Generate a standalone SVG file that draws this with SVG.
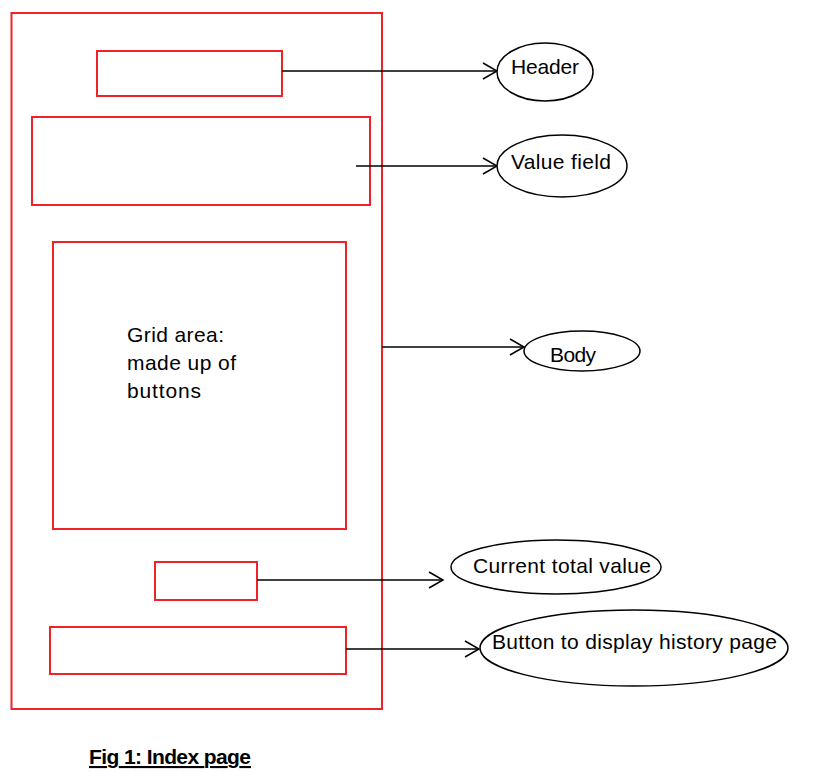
<svg xmlns="http://www.w3.org/2000/svg" width="840" height="772" viewBox="0 0 840 772">
<style>
.box{fill:none;stroke:#ee2229;stroke-width:2}
.ell{fill:#fff;stroke:#000;stroke-width:1.5}
.con{fill:none;stroke:#000;stroke-width:1.5}
.head{fill:none;stroke:#000;stroke-width:1.5}
text{font-family:"Liberation Sans",Arial,sans-serif;font-size:21px;fill:#000}
.cap{font-weight:bold;text-decoration:underline}
</style>
<rect width="840" height="772" fill="#fff"/>
<g id="page"><rect class="box" x="11.5" y="13" width="370.5" height="696"/></g>
<g id="header-box"><rect class="box" x="97" y="51" width="185" height="45"/></g>
<g id="value-box"><rect class="box" x="32" y="117" width="338" height="88"/></g>
<g id="grid-box"><rect class="box" x="53" y="242" width="293" height="287"/>
<text x="127" y="342" textLength="97">Grid area:</text>
<text x="127" y="370" textLength="109">made up of</text>
<text x="127" y="398" textLength="74">buttons</text></g>
<g id="total-box"><rect class="box" x="155" y="562" width="102" height="38"/></g>
<g id="history-box"><rect class="box" x="50" y="627" width="296" height="47"/></g>
<g id="connectors">
<line class="con" x1="282" y1="71" x2="497" y2="71"/><polyline class="head" points="483,63 497,71 483,79"/>
<line class="con" x1="356" y1="166" x2="497" y2="166"/><polyline class="head" points="483,158 497,166 483,174"/>
<line class="con" x1="382" y1="347" x2="524" y2="347"/><polyline class="head" points="510,339 524,347 510,355"/>
<line class="con" x1="257" y1="580" x2="443" y2="580"/><polyline class="head" points="429,572 443,580 429,588"/>
<line class="con" x1="346" y1="649" x2="479" y2="649"/><polyline class="head" points="465,641 479,649 465,657"/>
</g>
<g id="header"><ellipse class="ell" cx="545" cy="72" rx="48" ry="29"/><text x="511" y="74" textLength="68">Header</text></g>
<g id="value-field"><ellipse class="ell" cx="562" cy="166" rx="65" ry="31"/><text x="511" y="169" textLength="100">Value field</text></g>
<g id="body"><ellipse class="ell" cx="582" cy="351" rx="58" ry="20"/><text x="550" y="362" textLength="46">Body</text></g>
<g id="current-total"><ellipse class="ell" cx="556" cy="567" rx="105" ry="27"/><text x="473" y="573" textLength="178">Current total value</text></g>
<g id="history"><ellipse class="ell" cx="634" cy="648" rx="154" ry="38"/><text x="492" y="649" textLength="285">Button to display history page</text></g>
<text class="cap" x="89" y="764" textLength="162">Fig 1: Index page</text>
</svg>
